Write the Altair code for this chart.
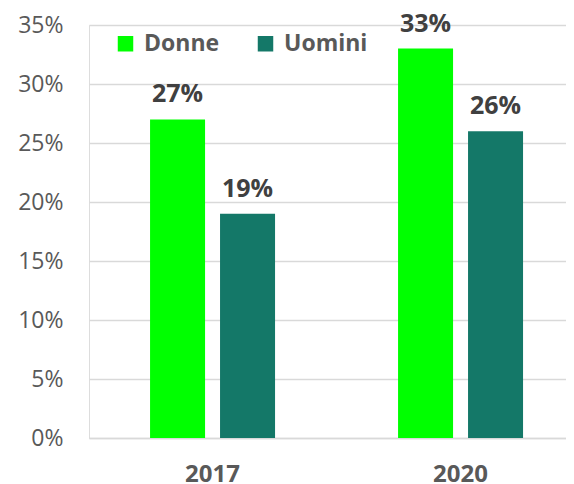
import altair as alt
import pandas as pd

years = ["2017", "2020"]
donne = [0.27, 0.33]
uomini = [0.19, 0.26]
groups = ["Donne", "Uomini"]
colors = ["#00FF00", "#147868"]

rows = []
for i, y in enumerate(years):
    rows.append({"anno": y, "gruppo": "Donne", "valore": donne[i]})
    rows.append({"anno": y, "gruppo": "Uomini", "valore": uomini[i]})
df = pd.DataFrame(rows)

FONT = "Open Sans"

x = alt.X("anno:N", title=None, sort=years,
          scale=alt.Scale(paddingInner=0.496, paddingOuter=0.2097, align=0.587),
          axis=alt.Axis(labelAngle=0, labelFontSize=24, labelFontWeight="bold",
                        labelColor="#595959", labelFont=FONT, ticks=False,
                        domainColor="#d9d9d9", domainWidth=1.5, labelPadding=24,
                        grid=False))
xo = alt.XOffset("gruppo:N", sort=groups,
                 scale=alt.Scale(domain=groups, paddingInner=0.214, paddingOuter=0))
y = alt.Y("valore:Q", title=None,
          scale=alt.Scale(domain=[0, 0.35], nice=False),
          axis=alt.Axis(format=".0%", values=[0, 0.05, 0.1, 0.15, 0.2, 0.25, 0.3, 0.35],
                        labelFontSize=23, labelColor="#595959", labelFont=FONT,
                        ticks=False, domain=False, gridColor="#d9d9d9", gridWidth=1.5,
                        labelPadding=26))

bars = alt.Chart(df).mark_bar().encode(
    x=x, xOffset=xo, y=y,
    color=alt.Color("gruppo:N", title=None,
                    scale=alt.Scale(domain=groups, range=colors),
                    legend=alt.Legend(orient="none", legendX=25, legendY=7,
                                      direction="horizontal", symbolType="square",
                                      symbolSize=240, symbolStrokeWidth=0,
                                      labelFontSize=23, labelFontWeight="bold",
                                      labelColor="#595959", labelFont=FONT,
                                      labelOffset=7, columnPadding=34, padding=0)),
)

labels = alt.Chart(df).mark_text(
    baseline="alphabetic", dy=-17, fontSize=25, fontWeight="bold",
    color="#404040", font=FONT,
).encode(
    x=x, xOffset=xo, y=y,
    text=alt.Text("valore:Q", format=".0%"),
)

chart = alt.layer(bars, labels).properties(
    width=477, height=413,
    autosize=alt.AutoSizeParams(type="none"),
    padding={"left": 81, "top": 17, "right": 0, "bottom": 52},
).configure_view(stroke=None).configure(background="white")

chart.save("out.html", embed_options={"renderer": "svg", "actions": False})
